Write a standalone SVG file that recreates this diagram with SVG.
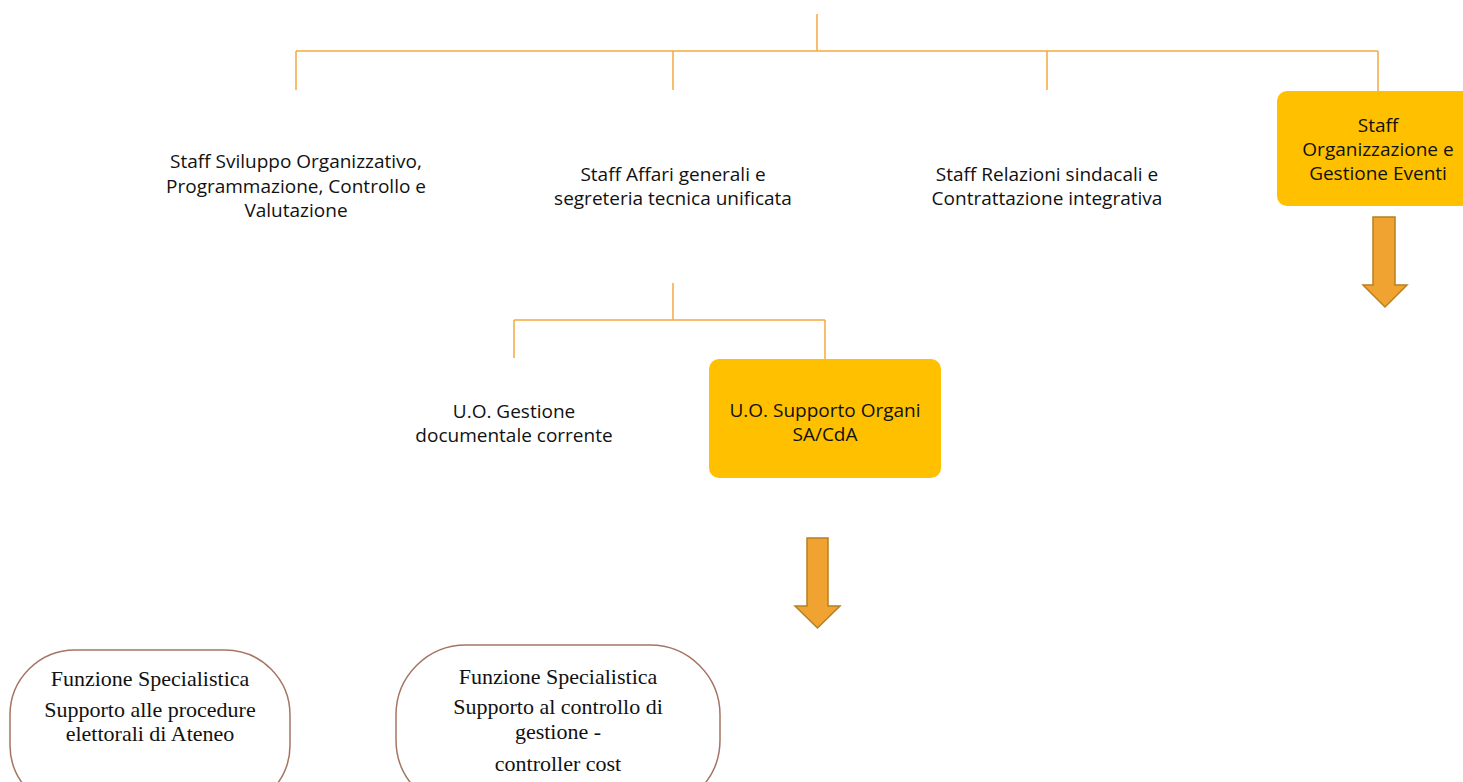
<svg xmlns="http://www.w3.org/2000/svg" width="1463" height="782" viewBox="0 0 1463 782">
<style>
.ln{stroke:#F4A93E;stroke-width:1.5;fill:none}
.sans{font-family:"Open Sans","Liberation Sans",sans-serif;font-size:19px;fill:#111;text-anchor:middle}
.serif{font-family:"Liberation Serif","DejaVu Serif",serif;font-size:22px;fill:#111;text-anchor:middle}
.box{fill:#FFC000}
.arr{fill:#F0A330;stroke:#B8801F;stroke-width:1.5}
.oval{fill:#fff;stroke:#A47563;stroke-width:1.5}
</style>
<rect width="1463" height="782" fill="#fff"/>
<g id="connectors">
<path class="ln" d="M817,14V51M296,51H1378M296,51V90M673,51V90M1047,51V90M1378,51V91"/>
<path class="ln" d="M673,283V320M514,320H825M514,320V358M825,320V359"/>
</g>
<g id="n-sviluppo">
<text class="sans" x="296" y="168">Staff Sviluppo Organizzativo,</text>
<text class="sans" x="296" y="193">Programmazione, Controllo e</text>
<text class="sans" x="296" y="217">Valutazione</text>
</g>
<g id="n-affari">
<text class="sans" x="673" y="181">Staff Affari generali e</text>
<text class="sans" x="673" y="205">segreteria tecnica unificata</text>
</g>
<g id="n-relazioni">
<text class="sans" x="1047" y="181">Staff Relazioni sindacali e</text>
<text class="sans" x="1047" y="205">Contrattazione integrativa</text>
</g>
<g id="n-organizzazione">
<rect class="box" x="1277" y="91" width="200" height="115" rx="10"/>
<text class="sans" x="1378" y="132">Staff</text>
<text class="sans" x="1378" y="156">Organizzazione e</text>
<text class="sans" x="1378" y="180">Gestione Eventi</text>
</g>
<g id="arrow-1">
<path class="arr" d="M1373,217H1395V285H1407L1385,307L1363,285H1373Z"/>
</g>
<g id="n-gestione">
<text class="sans" x="514" y="418">U.O. Gestione</text>
<text class="sans" x="514" y="442">documentale corrente</text>
</g>
<g id="n-supporto">
<rect class="box" x="709" y="359" width="232" height="119" rx="10"/>
<text class="sans" x="825" y="417">U.O. Supporto Organi</text>
<text class="sans" x="825" y="441">SA/CdA</text>
</g>
<g id="arrow-2">
<path class="arr" d="M807,538H828V606H840L817.5,628L795,606H807Z"/>
</g>
<g id="n-funz1">
<rect class="oval" x="10" y="650" width="280" height="160" rx="65"/>
<text class="serif" x="150" y="686">Funzione Specialistica</text>
<text class="serif" x="150" y="717">Supporto alle procedure</text>
<text class="serif" x="150" y="741">elettorali di Ateneo</text>
</g>
<g id="n-funz2">
<rect class="oval" x="396" y="645" width="324" height="165" rx="70"/>
<text class="serif" x="558" y="684">Funzione Specialistica</text>
<text class="serif" x="558" y="714">Supporto al controllo di</text>
<text class="serif" x="558" y="739">gestione -</text>
<text class="serif" x="558" y="771">controller cost</text>
</g>
</svg>
